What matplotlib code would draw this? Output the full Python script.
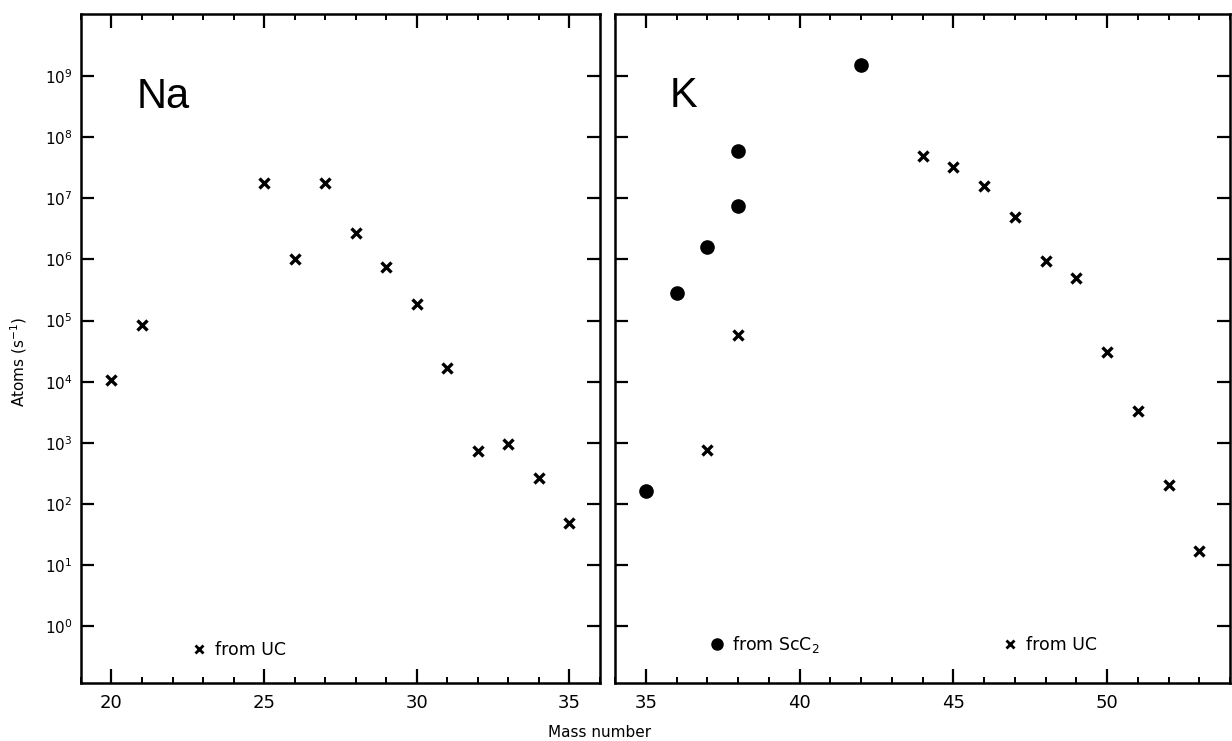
import matplotlib
matplotlib.use("Agg")
import matplotlib.pyplot as plt
from matplotlib.ticker import MultipleLocator, LogFormatterSciNotation
from matplotlib.lines import Line2D

# Na from UC
na_mass = [20, 21, 25, 26, 27, 28, 29, 30, 31, 32, 33, 34, 35]
na_rate = [1.07e4, 8.6e4, 1.8e7, 1.0e6, 1.8e7, 2.7e6, 7.6e5, 1.85e5,
           1.7e4, 740, 960, 270, 49]

# K from ScC2
k_sc_mass = [35, 36, 37, 38, 38, 42]
k_sc_rate = [165, 2.8e5, 1.6e6, 7.4e6, 5.9e7, 1.5e9]

# K from UC
k_uc_mass = [37, 38, 44, 45, 46, 47, 48, 49, 50, 51, 52, 53]
k_uc_rate = [770, 5.7e4, 5.0e7, 3.2e7, 1.6e7, 5.0e6, 9.3e5, 5.0e5,
             3.0e4, 3.3e3, 200, 17]

y_ticks = [10.0**e for e in range(0, 10)]
ylim = (10**-0.93, 10**10.015)

plt.rcParams['mathtext.fontset'] = 'dejavusans'

fig = plt.figure(figsize=(12.32, 7.41), dpi=100)
ax1 = fig.add_axes([0.0657, 0.0783, 0.4213, 0.9028])
ax2 = fig.add_axes([0.4992, 0.0783, 0.4992, 0.9028])

cross = dict(ls='none', marker='x', color='black', ms=7, mew=2.4)
dot = dict(ls='none', marker='o', color='black', ms=9.5)

ax1.plot(na_mass, na_rate, **cross)
ax2.plot(k_sc_mass, k_sc_rate, **dot)
ax2.plot(k_uc_mass, k_uc_rate, **cross)

for ax, xlim in ((ax1, (19, 36)), (ax2, (34, 54))):
    ax.set_yscale('log')
    ax.set_ylim(*ylim)
    ax.set_xlim(*xlim)
    ax.set_yticks(y_ticks)
    ax.yaxis.set_minor_locator(plt.NullLocator())
    ax.xaxis.set_major_locator(MultipleLocator(5))
    ax.xaxis.set_minor_locator(MultipleLocator(1))
    ax.tick_params(axis='x', which='major', direction='in', top=True,
                   length=10, width=1.6, labelsize=13, pad=8)
    ax.tick_params(axis='x', which='minor', direction='in', top=True,
                   length=4, width=1.4)
    ax.tick_params(axis='y', which='major', direction='in', right=True,
                   length=9.5, width=1.6, labelsize=11, pad=6)
    for s in ax.spines.values():
        s.set_linewidth(1.8)

ax1.yaxis.set_major_formatter(LogFormatterSciNotation())
ax2.tick_params(axis='y', labelleft=False)

ax1.text(0.108, 0.859, 'Na', transform=ax1.transAxes, fontsize=30,
         family='Liberation Sans')
ax2.text(0.089, 0.861, 'K', transform=ax2.transAxes, fontsize=30,
         family='Liberation Sans')

h_uc = Line2D([], [], ls='none', marker='x', color='black', ms=6, mew=2)
h_sc = Line2D([], [], ls='none', marker='o', color='black', ms=8)
leg_kw = dict(frameon=False, fontsize=12.5, handlelength=0.8,
              handletextpad=0.5, borderpad=0, borderaxespad=0,
              loc='center left')

ax1.legend([h_uc], ['from UC'], bbox_to_anchor=(0.214, 0.049), **leg_kw)
leg_a = ax2.legend([h_sc], ['from ScC$_2$'],
                   bbox_to_anchor=(0.154, 0.057), **leg_kw)
ax2.add_artist(leg_a)
ax2.legend([h_uc], ['from UC'], bbox_to_anchor=(0.631, 0.057), **leg_kw)

fig.text(0.015, 0.511, 'Atoms (s$^{-1}$)', rotation=90, fontsize=11,
         ha='center', va='center')
fig.text(0.487, 0.012, 'Mass number', fontsize=11, ha='center',
         va='center')

fig.savefig('out.png', dpi=100)
